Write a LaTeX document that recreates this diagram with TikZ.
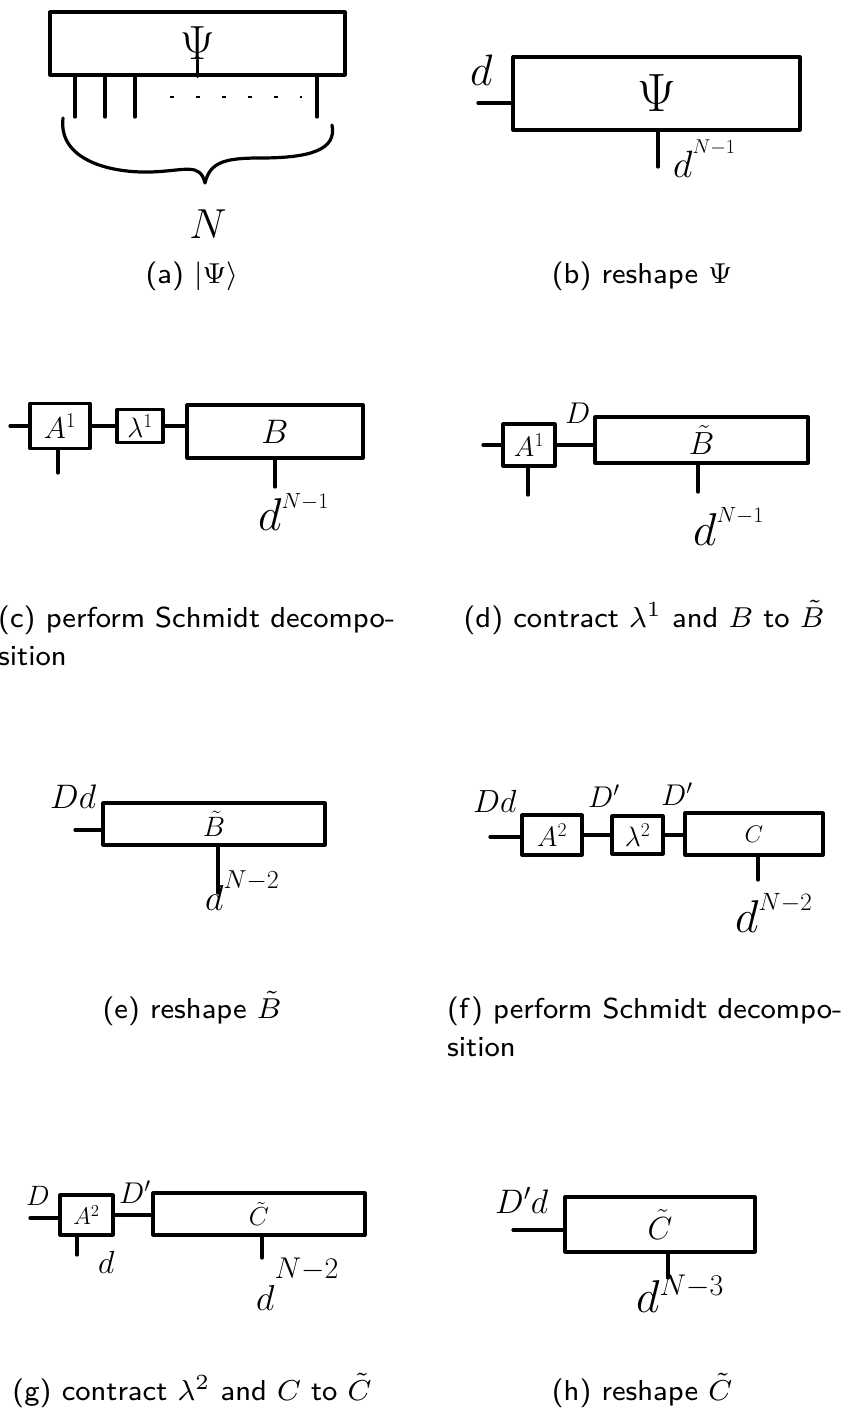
\RequirePackage{fix-cm}
\documentclass[tikz,border=0pt]{standalone}
\usepackage{fontspec}
\usepackage{amsmath}
\usepackage{graphicx}
\newcommand{\fs}[1]{\fontsize{#1}{#1}\selectfont}
\newcommand{\hdpow}[4]{{\fs{#1}$d$}\raisebox{#3}{\fs{#2}$#4$}}
\newcommand{\captext}[1]{\scalebox{3.6}{\sffamily\fontsize{8}{10}\selectfont #1}}
\tikzset{
  hand/.style={line width=3.2pt, line cap=round, line join=round},
  tensor/.style={draw, line width=3.2pt, inner sep=0pt, line join=round},
  lab/.style={inner sep=0pt},
  captxt/.style={inner sep=0pt}
}
\begin{document}
\begin{tikzpicture}[x=1pt,y=-1pt]
\fill[white] (0,0) rectangle (842,1416);
\useasboundingbox (0,0) rectangle (842,1416);

% ---------- (a) ----------
\node[tensor, minimum width=295pt, minimum height=63pt] (psia) at (197.5,43.5) {\fs{48}$\Psi$};
\draw[hand] (psia.base) -- (psia.south);
\foreach \x/\n in {75/1,105/2,135/3,317/4} {
  \coordinate (aleg\n) at (\x,117);
  \draw[hand] (aleg\n |- psia.south) -- (aleg\n);
}
\coordinate (adots1) at (170,97);
\coordinate (adots2) at (302,97);
\draw[line width=2pt, dash pattern=on 4pt off 22pt] (adots1) -- (adots2);
\coordinate (br1) at (63,118);
\coordinate (brtip) at (205,183);
\coordinate (br2) at (332,125);
\draw[hand] (br1) .. controls (58,160) and (110,173) .. (150,172)
  .. controls (185,171) and (200,162) .. (brtip)
  .. controls (210,162) and (225,158) .. (260,158)
  .. controls (310,158) and (337,150) .. (br2);
\node[lab] (aN) at (208,224) {\fs{42}$N$};
\node[captxt, anchor=base] (capa) at (192,283) {\captext{(a) $|\Psi\rangle$}};

% ---------- (b) ----------
\node[tensor, minimum width=287pt, minimum height=73pt] (psib) at (656.5,93.5) {\fs{54}$\Psi$};
\coordinate (bleft) at (478,103);
\draw[hand] (bleft) -- (bleft -| psib.west);
\node[lab, anchor=base west] (bd) at (470,85) {\fs{44}$d$};
\coordinate (bbot) at (658,167);
\draw[hand] (bbot |- psib.south) -- (bbot);
\node[lab, anchor=base west] (bdn) at (673,177) {\hdpow{38}{20}{24pt}{N{-}1}};
\node[captxt, anchor=base] (capb) at (642,283) {\captext{(b) reshape $\Psi$}};

% ---------- (c) ----------
\node[tensor, minimum width=60pt, minimum height=45pt] (a1c) at (60,426) {\fs{30}$A^1$};
\coordinate (cl) at (10,426);
\draw[hand] (cl) -- (a1c.west);
\coordinate (cb) at (58,473);
\draw[hand] (cb |- a1c.south) -- (cb);
\node[tensor, minimum width=46pt, minimum height=33pt] (l1c) at (140,426) {\fs{28}$\lambda^1$};
\draw[hand] (a1c.east) -- (l1c.west);
\node[tensor, minimum width=176pt, minimum height=53pt] (bc) at (275,431.5) {\fs{34}$B$};
\draw[hand] (l1c.east) -- (l1c.east -| bc.west);
\coordinate (cbb) at (275,487);
\draw[hand] (cbb |- bc.south) -- (cbb);
\node[lab, anchor=base west] (cdn) at (258,530) {\hdpow{46}{22}{22pt}{N{-}1}};
\node[captxt, anchor=base west] (capc1) at (-2,627) {\captext{(c) perform Schmidt decompo-}};
\node[captxt, anchor=base west] (capc2) at (-2,665) {\captext{sition}};

% ---------- (d) ----------
\node[tensor, minimum width=52pt, minimum height=42pt] (a1d) at (529,445) {\fs{28}$A^1$};
\coordinate (dl) at (483,445);
\draw[hand] (dl) -- (a1d.west);
\coordinate (db) at (528,495);
\draw[hand] (db |- a1d.south) -- (db);
\node[tensor, minimum width=213pt, minimum height=46pt] (btd) at (701.5,440) {\fs{32}$\tilde{B}$};
\draw[hand] (a1d.east) -- (a1d.east -| btd.west);
\node[lab, anchor=base west] (dD) at (565,423) {\fs{30}$D$};
\coordinate (dbb) at (698,492);
\draw[hand] (dbb |- btd.south) -- (dbb);
\node[lab, anchor=base west] (ddn) at (693,545) {\hdpow{46}{22}{23pt}{N{-}1}};
\node[captxt, anchor=base] (capd) at (644,627) {\captext{(d) contract $\lambda^1$ and $B$ to $\tilde{B}$}};

% ---------- (e) ----------
\node[tensor, minimum width=222pt, minimum height=42pt] (bte) at (214,824) {\fs{28}$\tilde{B}$};
\coordinate (el) at (75,830);
\draw[hand] (el) -- (el -| bte.west);
\node[lab, anchor=base west] (eDd) at (50,808) {\fs{34}$Dd$};
\coordinate (ebb) at (218,893);
\draw[hand] (ebb |- bte.south) -- (ebb);
\node[lab, anchor=base west] (edn) at (205,910) {\hdpow{36}{26}{22pt}{N{-}2}};
\node[captxt, anchor=base] (cape) at (192,1018) {\captext{(e) reshape $\tilde{B}$}};

% ---------- (f) ----------
\node[tensor, minimum width=60pt, minimum height=40pt] (a2f) at (552,835) {\fs{28}$A^2$};
\coordinate (fl) at (490,837);
\draw[hand] (fl) -- (fl -| a2f.west);
\node[tensor, minimum width=51pt, minimum height=38pt] (l2f) at (637.5,835) {\fs{28}$\lambda^2$};
\draw[hand] (a2f.east) -- (l2f.west);
\node[tensor, minimum width=138pt, minimum height=42pt] (cf) at (754,834) {\fs{24}$C$};
\draw[hand] (l2f.east) -- (l2f.east -| cf.west);
\coordinate (fbb) at (758,880);
\draw[hand] (fbb |- cf.south) -- (fbb);
\node[lab, anchor=base west] (fdn) at (735,932) {\hdpow{46}{25}{22pt}{N{-}2}};
\node[lab, anchor=base west] (fDd) at (473,812) {\fs{32}$Dd$};
\node[lab, anchor=base west] (fD1) at (588,807) {\fs{30}$D'$};
\node[lab, anchor=base west] (fD2) at (661,805) {\fs{30}$D'$};
\node[captxt, anchor=base west] (capf1) at (447,1018) {\captext{(f) perform Schmidt decompo-}};
\node[captxt, anchor=base west] (capf2) at (447,1056) {\captext{sition}};

% ---------- (g) ----------
\node[tensor, minimum width=53pt, minimum height=40pt] (a2g) at (86.5,1215) {\fs{24}$A^2$};
\coordinate (gl) at (30,1218);
\draw[hand] (gl) -- (gl -| a2g.west);
\node[lab, anchor=base west] (gD) at (26,1205) {\fs{28}$D$};
\coordinate (gb) at (77,1255);
\draw[hand] (gb |- a2g.south) -- (gb);
\node[lab, anchor=base west] (gd) at (98,1273) {\fs{32}$d$};
\node[tensor, minimum width=212pt, minimum height=42pt] (ctg) at (259,1214) {\fs{26}$\tilde{C}$};
\draw[hand] (a2g.east) -- (a2g.east -| ctg.west);
\node[lab, anchor=base west] (gD1) at (119,1203) {\fs{30}$D'$};
\coordinate (gbb) at (262,1258);
\draw[hand] (gbb |- ctg.south) -- (gbb);
\node[lab, anchor=base west] (gdn) at (256,1310) {\hdpow{36}{30}{32pt}{N{-}2}};
\node[captxt, anchor=base] (capg) at (192,1400) {\captext{(g) contract $\lambda^2$ and $C$ to $\tilde{C}$}};

% ---------- (h) ----------
\node[tensor, minimum width=190pt, minimum height=55pt] (cth) at (660,1224.5) {\fs{32}$\tilde{C}$};
\coordinate (hl) at (513,1230);
\draw[hand] (hl) -- (hl -| cth.west);
\node[lab, anchor=base west] (hDd) at (495,1213) {\fs{34}$D'd$};
\coordinate (hbb) at (668,1278);
\draw[hand] (hbb |- cth.south) -- (hbb);
\node[lab, anchor=base west] (hdn) at (636,1312) {\hdpow{46}{30}{17pt}{N{-}3}};
\node[captxt, anchor=base] (caph) at (642,1400) {\captext{(h) reshape $\tilde{C}$}};
\end{tikzpicture}
\end{document}
